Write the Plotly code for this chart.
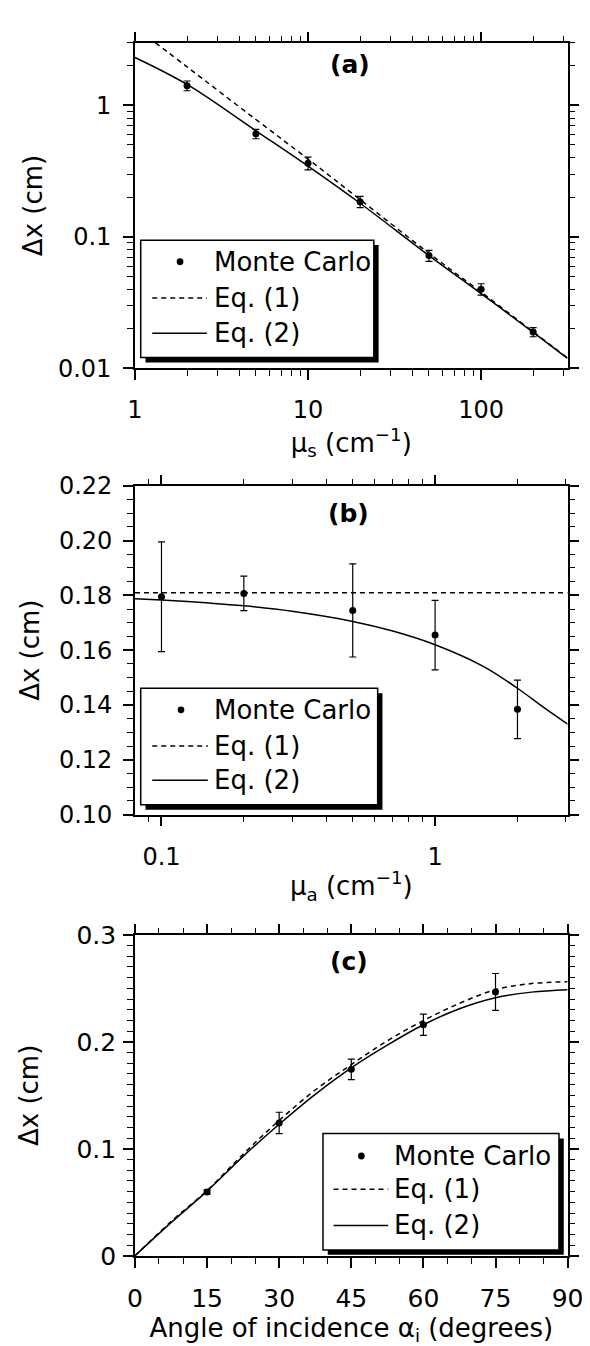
import plotly.graph_objects as go
import math

W, H = 590, 1346
FONT = "DejaVu Sans"

# ---------------- Panel (a) data ----------------
a_mc_x = [2, 5, 10, 20, 50, 100, 200]
a_mc_y = [1.41, 0.607, 0.363, 0.185, 0.072, 0.040, 0.0189]
a_mc_err = [0.12, 0.05, 0.04, 0.018, 0.007, 0.004, 0.0015]
a_eq1_x = [1.31, 2, 5, 10, 20, 50, 100, 200, 316]
a_eq1_y = [3.0, 1.96, 0.78, 0.39, 0.192, 0.075, 0.038, 0.019, 0.012]
a_eq2_x = [1, 2, 5, 10, 20, 50, 100, 200, 316]
a_eq2_y = [2.31, 1.44, 0.64, 0.345, 0.18, 0.072, 0.037, 0.0188, 0.0119]

# ---------------- Panel (b) data ----------------
b_mc_x = [0.1, 0.2, 0.5, 1, 2]
b_mc_y = [0.1795, 0.1807, 0.1745, 0.1655, 0.1384]
b_mc_err = [0.020, 0.0063, 0.017, 0.0127, 0.0107]
b_eq1_x = [0.08, 3.05]
b_eq1_y = [0.181, 0.181]
b_eq2_x = [0.08, 0.1, 0.15, 0.2, 0.3, 0.5, 0.7, 1, 1.5, 2, 2.5, 3.05]
b_eq2_y = [0.1788, 0.1783, 0.1772, 0.1762, 0.1742, 0.1705, 0.1670, 0.1620, 0.1541, 0.1461, 0.1390, 0.1330]

# ---------------- Panel (c) data ----------------
c_mc_x = [15, 30, 45, 60, 75]
c_mc_y = [0.0596, 0.1242, 0.1743, 0.216, 0.2467]
c_mc_err = [0.002, 0.010, 0.0095, 0.010, 0.0172]
c_eq_x = [0, 7.5, 15, 22.5, 30, 37.5, 45, 52.5, 60, 67.5, 75, 82.5, 90]
c_eq1_y = [0, 0.032, 0.061, 0.095, 0.1266, 0.155, 0.1787, 0.201, 0.2199, 0.236, 0.2488, 0.2545, 0.2562]
c_eq2_y = [0, 0.031, 0.0605, 0.093, 0.123, 0.151, 0.1758, 0.197, 0.216, 0.231, 0.2413, 0.2465, 0.2488]

legend_labels = ["Monte Carlo", "Eq. (1)", "Eq. (2)"]
panel_labels = ["(a)", "(b)", "(c)"]

# pixel layout helpers
def px(x):
    return x / W

def py(y):
    return 1 - y / H

X0, X1 = 124, 575
dom_a = [py(354), py(21)]
dom_b = [py(810), py(474)]
dom_c = [py(1261), py(933)]

fig = go.Figure()

def add_panel(xs, ys, err, e1x, e1y, e2x, e2y, xa, ya, shape):
    fig.add_trace(go.Scatter(x=xs, y=ys, mode="markers", name=legend_labels[0],
                             marker=dict(color="black", size=7),
                             error_y=dict(type="data", array=err, color="black", thickness=1.2, width=3.5),
                             xaxis=xa, yaxis=ya, showlegend=False))
    fig.add_trace(go.Scatter(x=e1x, y=e1y, mode="lines", name=legend_labels[1],
                             line=dict(color="black", width=1.5, dash="5px,4px", shape=shape),
                             xaxis=xa, yaxis=ya, showlegend=False))
    fig.add_trace(go.Scatter(x=e2x, y=e2y, mode="lines", name=legend_labels[2],
                             line=dict(color="black", width=1.5, shape=shape),
                             xaxis=xa, yaxis=ya, showlegend=False))

add_panel(a_mc_x, a_mc_y, a_mc_err, a_eq1_x, a_eq1_y, a_eq2_x, a_eq2_y, "x", "y", "spline")
add_panel(b_mc_x, b_mc_y, b_mc_err, b_eq1_x, b_eq1_y, b_eq2_x, b_eq2_y, "x2", "y2", "spline")
add_panel(c_mc_x, c_mc_y, c_mc_err, c_eq_x, c_eq1_y, c_eq_x, c_eq2_y, "x3", "y3", "spline")

tickfont = dict(family=FONT, size=24, color="black")
tickfont_c = dict(family=FONT, size=25, color="black")
titlefont = dict(family=FONT, size=26, color="black")

def axis(**kw):
    base = dict(showline=True, linecolor="black", linewidth=1.5, mirror=True,
                ticks="outside", ticklen=10, tickwidth=1.5, tickcolor="black",
                showgrid=False, zeroline=False, tickfont=tickfont, ticklabeloverflow="allow")
    base.update(kw)
    return base

def minor(vals=None, dtick=None):
    m = dict(ticks="outside", ticklen=6, tickwidth=1.2, tickcolor="black", showgrid=False)
    if vals is not None:
        m["tickvals"] = vals
    if dtick is not None:
        m["dtick"] = dtick
    return m

log_minor_a_x = [2, 3, 4, 5, 6, 7, 8, 9, 20, 30, 40, 50, 60, 70, 80, 90, 200, 300]
log_minor_a_y = [0.02, 0.03, 0.04, 0.05, 0.06, 0.07, 0.08, 0.09,
                 0.2, 0.3, 0.4, 0.5, 0.6, 0.7, 0.8, 0.9, 2, 3]
log_minor_b_x = [0.09, 0.2, 0.3, 0.4, 0.5, 0.6, 0.7, 0.8, 0.9, 2, 3]

xa_a = dict(type="log", range=[0, 2.5], tickvals=[1, 10, 100], minor=minor(log_minor_a_x))
ya_a = dict(type="log", range=[-2, math.log10(3)], tickvals=[0.01, 0.1, 1], minor=minor(log_minor_a_y))
xa_b = dict(type="log", range=[math.log10(0.08), math.log10(3.05)], tickvals=[0.1, 1], minor=minor(log_minor_b_x))
ya_b = dict(range=[0.10, 0.22], dtick=0.02, tick0=0.10, minor=minor(dtick=0.005))
xa_c = dict(range=[0, 90], tickvals=[0, 15, 30, 45, 60, 75, 90], minor=minor(dtick=5))
ya_c = dict(range=[0, 0.3], tickvals=[0, 0.1, 0.2, 0.3], minor=minor(dtick=0.01))

fig.update_layout(
    width=W, height=H, margin=dict(l=0, r=0, t=0, b=0),
    paper_bgcolor="white", plot_bgcolor="white", showlegend=False,
    font=dict(family=FONT, color="black"),
    xaxis=axis(**xa_a, domain=[px(X0), px(X1)], anchor="y",
               ticktext=["1", "10", "100"], ticklabelstandoff=9,
               title=dict(text="μ<sub>s</sub> (cm<sup>−1</sup>)", font=titlefont, standoff=7)),
    yaxis=axis(**ya_a, domain=dom_a, anchor="x",
               ticktext=["0.01", "0.1", "1"], ticklabelstandoff=7,
               title=dict(text="Δx (cm)", font=titlefont, standoff=8)),
    xaxis2=axis(**xa_b, domain=[px(X0), px(X1)], anchor="y2",
                ticktext=["0.1", "1"], ticklabelstandoff=10,
                title=dict(text="μ<sub>a</sub> (cm<sup>−1</sup>)", font=titlefont, standoff=7)),
    yaxis2=axis(**ya_b, domain=dom_b, anchor="x2",
                tickformat=".2f", ticklabelstandoff=6,
                title=dict(text="Δx (cm)", font=titlefont, standoff=12)),
    xaxis3=axis(**xa_c, domain=[px(X0), px(X1)], anchor="y3", tickfont=tickfont_c,
                ticklabelstandoff=9,
                title=dict(text="Angle of incidence α<sub>i</sub> (degrees)", font=titlefont, standoff=0)),
    yaxis3=axis(**ya_c, domain=dom_c, anchor="x3", tickfont=tickfont_c,
                ticktext=["0", "0.1", "0.2", "0.3"], ticklabelstandoff=2,
                title=dict(text="Δx (cm)", font=titlefont, standoff=30)),
)

# mirrored (top / right) tick axes
def mirror_axis(spec, **kw):
    d = dict(spec)
    d.update(showline=False, ticks="outside", ticklen=10, tickwidth=1.5, tickcolor="black",
             showgrid=False, zeroline=False, showticklabels=False)
    d.update(kw)
    return d

fig.update_layout(
    xaxis4=mirror_axis(xa_a, overlaying="x", side="top", anchor="y"),
    yaxis4=mirror_axis(ya_a, overlaying="y", side="right", anchor="x"),
    xaxis5=mirror_axis(xa_b, overlaying="x2", side="top", anchor="y2"),
    yaxis5=mirror_axis(ya_b, overlaying="y2", side="right", anchor="x2"),
    xaxis6=mirror_axis(xa_c, overlaying="x3", side="top", anchor="y3"),
    yaxis6=mirror_axis(ya_c, overlaying="y3", side="right", anchor="x3"),
)
for xa, ya, xs, ys in [("x4", "y4", a_mc_x, a_mc_y), ("x5", "y5", b_mc_x, b_mc_y), ("x6", "y6", c_mc_x, c_mc_y)]:
    fig.add_trace(go.Scatter(x=xs[:1], y=ys[:1], mode="markers", marker=dict(opacity=0, size=1),
                             xaxis=xa, yaxis=ya, showlegend=False, hoverinfo="skip"))

shapes = []
annotations = []

def add_legend(box, dot, line_x, ys, text_x):
    x0, y0, x1, y1 = box
    shapes.append(dict(type="rect", xref="paper", yref="paper",
                       x0=px(x0 + 5), x1=px(x1 + 5), y0=py(y1 + 5), y1=py(y0 + 5),
                       fillcolor="black", line=dict(width=0), layer="above"))
    shapes.append(dict(type="rect", xref="paper", yref="paper",
                       x0=px(x0), x1=px(x1), y0=py(y1), y1=py(y0),
                       fillcolor="white", line=dict(color="black", width=1.5), layer="above"))
    r = 3.5
    shapes.append(dict(type="circle", xref="paper", yref="paper",
                       x0=px(dot[0] - r), x1=px(dot[0] + r), y0=py(dot[1] + r), y1=py(dot[1] - r),
                       fillcolor="black", line=dict(width=0), layer="above"))
    shapes.append(dict(type="line", xref="paper", yref="paper",
                       x0=px(line_x[0]), x1=px(line_x[1]), y0=py(ys[1]), y1=py(ys[1]),
                       line=dict(color="black", width=1.5, dash="5px,4px"), layer="above"))
    shapes.append(dict(type="line", xref="paper", yref="paper",
                       x0=px(line_x[0]), x1=px(line_x[1]), y0=py(ys[2]), y1=py(ys[2]),
                       line=dict(color="black", width=1.5), layer="above"))
    for t, yy in zip(legend_labels, ys):
        annotations.append(dict(text=t, xref="paper", yref="paper", x=px(text_x), y=py(yy),
                                xanchor="left", yanchor="middle", showarrow=False,
                                font=dict(family=FONT, size=26, color="black")))

add_legend((130, 223, 373, 343), (171, 245), (142, 199), (245, 282, 318), 204)
add_legend((130, 681, 377, 800), (172, 703), (142, 200), (703, 740, 775), 204)
add_legend((320, 1136, 566, 1255), (360, 1159), (331, 388), (1159, 1193, 1230), 392)

for lab, (xx, yy) in zip(panel_labels, [(348, 43), (347, 502), (347, 960)]):
    annotations.append(dict(text="<b>%s</b>" % lab, xref="paper", yref="paper", x=px(xx), y=py(yy),
                            xanchor="center", yanchor="middle", showarrow=False,
                            font=dict(family=FONT, size=25, color="black")))

fig.update_layout(shapes=shapes, annotations=annotations)
fig.write_html("out.html")
